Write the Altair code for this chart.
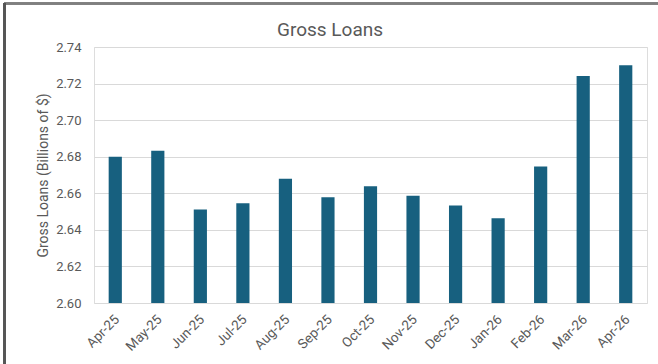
import altair as alt
import pandas as pd

months = ["Apr-25", "May-25", "Jun-25", "Jul-25", "Aug-25", "Sep-25", "Oct-25",
          "Nov-25", "Dec-25", "Jan-26", "Feb-26", "Mar-26", "Apr-26"]
gross_loans = [2.680, 2.6833, 2.6511, 2.6545, 2.6680, 2.6578, 2.6638,
               2.6587, 2.6533, 2.6463, 2.6746, 2.7241, 2.7300]
y_ticks = [2.60, 2.62, 2.64, 2.66, 2.68, 2.70, 2.72, 2.74]
chart_title = "Gross Loans"

df = pd.DataFrame({"month": months, "value": gross_loans})

FONT = "Roboto"
GREY = "#595959"

bars = alt.Chart(df).mark_bar(color="#17607f", clip=True).encode(
    x=alt.X("month:N", sort=months,
            scale=alt.Scale(paddingInner=0.69, paddingOuter=0.345),
            axis=alt.Axis(title=None, labelAngle=-45, labelAlign="right",
                          labelBaseline="middle", labelPadding=14, labelOffset=2,
                          ticks=False, domain=False, labelFontSize=13.5,
                          labelColor=GREY, labelFont=FONT)),
    y=alt.Y("value:Q",
            scale=alt.Scale(domain=[2.60, 2.74], zero=False, nice=False),
            axis=alt.Axis(values=y_ticks, format=".2f", title="Gross Loans (Billions of $)",
                          ticks=False, domain=False, grid=True, gridColor="#d9d9d9",
                          gridWidth=1, labelPadding=13, labelFontSize=13,
                          labelColor=GREY, labelFont=FONT, titleFont=FONT,
                          titleFontSize=14, titleColor=GREY, titleFontWeight="normal",
                          titleX=-51, titleY=128, titleAngle=270,
                          titleAlign="center", titleBaseline="middle")),
)

title_mark = alt.Chart(pd.DataFrame({"t": [chart_title]})).mark_text(
    font=FONT, fontSize=19, color=GREY, align="center", baseline="alphabetic"
).encode(text="t:N", x=alt.value(236), y=alt.value(-11))

border_top = alt.Chart(df).mark_rule(color="#7f7f7f", strokeWidth=1.5).encode(
    x=alt.value(-90), x2=alt.value(600), y=alt.value(-43.5))
border_left = alt.Chart(df).mark_rule(color="#555555", strokeWidth=1.5).encode(
    x=alt.value(-89.5), y=alt.value(-44), y2=alt.value(400))

chart = alt.layer(bars, title_mark, border_top, border_left).properties(
    width=553, height=256,
    autosize=alt.AutoSizeParams(type="none"),
    padding={"left": 94, "top": 47, "right": 11, "bottom": 61},
).configure_view(stroke=None).configure(background="white")

chart.save("out.html", embed_options={"renderer": "svg", "actions": False})
